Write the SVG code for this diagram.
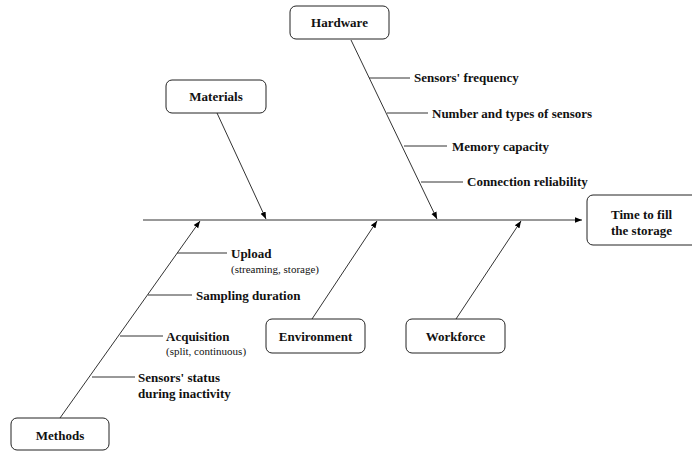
<svg xmlns="http://www.w3.org/2000/svg" width="692" height="451" viewBox="0 0 692 451">
<defs>
<marker id="ah" viewBox="0 0 10 10" refX="10" refY="5" markerWidth="7" markerHeight="7" markerUnits="userSpaceOnUse" orient="auto">
<path d="M0,1 L10,5 L0,9 z" fill="#000"/>
</marker>
<style>
.box{fill:#fff;stroke:#222;stroke-width:1}
.lbl{font-family:"Liberation Serif","Times New Roman",serif;font-weight:bold;font-size:13px;fill:#111}
.sub{font-family:"Liberation Serif","Times New Roman",serif;font-size:11px;fill:#111}
.c{fill:none;stroke:#333;stroke-width:1}
.a{fill:none;stroke:#333;stroke-width:1;marker-end:url(#ah)}
</style>
</defs>
<rect width="692" height="451" fill="#fff"/>
<g id="connectors">
<line class="a" x1="143" y1="220" x2="582" y2="220"/>
<line class="a" x1="351" y1="40" x2="437" y2="219"/>
<line class="a" x1="217" y1="113" x2="266" y2="219"/>
<line class="a" x1="60" y1="418" x2="200" y2="221"/>
<line class="a" x1="312" y1="319" x2="377" y2="221"/>
<line class="a" x1="456" y1="319" x2="521" y2="221"/>
<line class="c" x1="369" y1="78" x2="410" y2="78"/>
<line class="c" x1="387" y1="113" x2="428" y2="113"/>
<line class="c" x1="404" y1="146" x2="447" y2="146"/>
<line class="c" x1="421" y1="182" x2="463" y2="182"/>
<line class="c" x1="177" y1="253" x2="227" y2="253"/>
<line class="c" x1="148" y1="295" x2="192" y2="295"/>
<line class="c" x1="120" y1="336" x2="163" y2="336"/>
<line class="c" x1="92" y1="377" x2="135" y2="377"/>
</g>
<g id="hardware">
<rect class="box" x="290" y="6" width="99" height="33" rx="6"/>
<text class="lbl" x="339.5" y="27" text-anchor="middle">Hardware</text>
</g>
<g id="materials">
<rect class="box" x="166" y="80" width="100" height="33" rx="6"/>
<text class="lbl" x="216" y="101" text-anchor="middle">Materials</text>
</g>
<g id="environment">
<rect class="box" x="266" y="319" width="99" height="34" rx="6"/>
<text class="lbl" x="315.5" y="341" text-anchor="middle">Environment</text>
</g>
<g id="workforce">
<rect class="box" x="406" y="319" width="99" height="34" rx="6"/>
<text class="lbl" x="455.5" y="341" text-anchor="middle">Workforce</text>
</g>
<g id="methods">
<rect class="box" x="11" y="418" width="98" height="32" rx="6"/>
<text class="lbl" x="60" y="440" text-anchor="middle">Methods</text>
</g>
<g id="effect">
<rect class="box" x="587" y="195" width="120" height="50" rx="6"/>
<text class="lbl" x="611" y="219">Time to fill</text>
<text class="lbl" x="611" y="235">the storage</text>
</g>
<g id="causes">
<text class="lbl" x="414" y="82">Sensors' frequency</text>
<text class="lbl" x="432" y="118">Number and types of sensors</text>
<text class="lbl" x="452" y="151">Memory capacity</text>
<text class="lbl" x="467" y="186">Connection reliability</text>
<text class="lbl" x="231" y="258">Upload</text>
<text class="sub" x="231" y="273">(streaming, storage)</text>
<text class="lbl" x="196" y="300">Sampling duration</text>
<text class="lbl" x="166" y="341">Acquisition</text>
<text class="sub" x="166" y="355">(split, continuous)</text>
<text class="lbl" x="138" y="382">Sensors' status</text>
<text class="lbl" x="138" y="398">during inactivity</text>
</g>
</svg>
